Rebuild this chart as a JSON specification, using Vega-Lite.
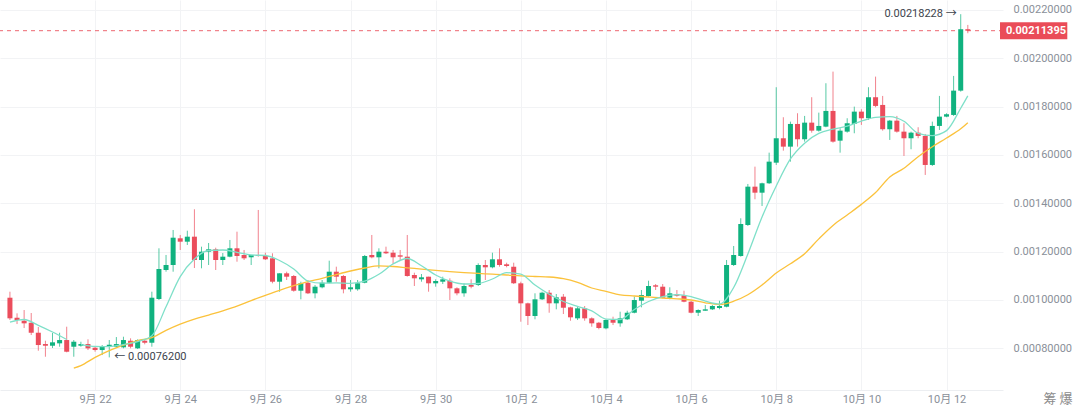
{
"$schema": "https://vega.github.io/schema/vega-lite/v6.json",
"width": 1003, "height": 390,
"autosize": {"type": "none"},
"padding": {"left": 0, "top": 0, "right": 77, "bottom": 18},
"background": "#ffffff",
"config": {
  "view": {"stroke": null},
  "font": "Roboto, 'Noto Sans CJK SC', sans-serif",
  "axis": {"labelFont": "Roboto, 'Noto Sans CJK SC', sans-serif", "labelFontSize": 11, "labelColor": "#8a9099", "ticks": false, "tickSize": 0, "gridColor": "#f2f3f5", "gridWidth": 1, "domain": false}
},
"datasets": {
"k": [
{"t":"2024-09-20 00:00","o":0.0010089,"h":0.0010338,"l":0.0009166,"c":0.0009236},
{"t":"2024-09-20 04:00","o":0.0009261,"h":0.0009443,"l":0.0009000,"c":0.0009166},
{"t":"2024-09-20 08:00","o":0.0009137,"h":0.0009580,"l":0.0008835,"c":0.0009029},
{"t":"2024-09-20 12:00","o":0.0009054,"h":0.0009456,"l":0.0008545,"c":0.0008640},
{"t":"2024-09-20 16:00","o":0.0008640,"h":0.0008876,"l":0.0007895,"c":0.0008131},
{"t":"2024-09-20 20:00","o":0.0008172,"h":0.0008309,"l":0.0007647,"c":0.0008102},
{"t":"2024-09-21 00:00","o":0.0008102,"h":0.0008628,"l":0.0008007,"c":0.0008243},
{"t":"2024-09-21 04:00","o":0.0008201,"h":0.0008640,"l":0.0008061,"c":0.0008338},
{"t":"2024-09-21 08:00","o":0.0008338,"h":0.0008889,"l":0.0007829,"c":0.0007854},
{"t":"2024-09-21 12:00","o":0.0008061,"h":0.0008338,"l":0.0007647,"c":0.0008268},
{"t":"2024-09-21 16:00","o":0.0008102,"h":0.0008268,"l":0.0008061,"c":0.0008172},
{"t":"2024-09-21 20:00","o":0.0008172,"h":0.0008367,"l":0.0007924,"c":0.0007994},
{"t":"2024-09-22 00:00","o":0.0008019,"h":0.0008061,"l":0.0007854,"c":0.0007924},
{"t":"2024-09-22 04:00","o":0.0007924,"h":0.0008131,"l":0.0007717,"c":0.0008090},
{"t":"2024-09-22 08:00","o":0.0008090,"h":0.0008338,"l":0.0007620,"c":0.0008143},
{"t":"2024-09-22 12:00","o":0.0008061,"h":0.0008462,"l":0.0008007,"c":0.0008172},
{"t":"2024-09-22 16:00","o":0.0008036,"h":0.0008475,"l":0.0007994,"c":0.0008338},
{"t":"2024-09-22 20:00","o":0.0008309,"h":0.0008408,"l":0.0007994,"c":0.0008061},
{"t":"2024-09-23 00:00","o":0.0007994,"h":0.0008367,"l":0.0007965,"c":0.0008338},
{"t":"2024-09-23 04:00","o":0.0008309,"h":0.0008367,"l":0.0008160,"c":0.0008226},
{"t":"2024-09-23 08:00","o":0.0008226,"h":0.0010338,"l":0.0008061,"c":0.0010089},
{"t":"2024-09-23 12:00","o":0.0010035,"h":0.0012134,"l":0.0009994,"c":0.0011277},
{"t":"2024-09-23 16:00","o":0.0011236,"h":0.0011857,"l":0.0011166,"c":0.0011443},
{"t":"2024-09-23 20:00","o":0.0011443,"h":0.0012892,"l":0.0011166,"c":0.0012573},
{"t":"2024-09-24 00:00","o":0.0012548,"h":0.0012685,"l":0.0012064,"c":0.0012408},
{"t":"2024-09-24 04:00","o":0.0012408,"h":0.0012863,"l":0.0012271,"c":0.0012615},
{"t":"2024-09-24 08:00","o":0.0012615,"h":0.0013749,"l":0.0011319,"c":0.0011650},
{"t":"2024-09-24 12:00","o":0.0011650,"h":0.0012201,"l":0.0011306,"c":0.0011994},
{"t":"2024-09-24 16:00","o":0.0011994,"h":0.0012354,"l":0.0011443,"c":0.0012093},
{"t":"2024-09-24 20:00","o":0.0012093,"h":0.0012159,"l":0.0011236,"c":0.0011650},
{"t":"2024-09-25 00:00","o":0.0011650,"h":0.0011940,"l":0.0011443,"c":0.0011787},
{"t":"2024-09-25 04:00","o":0.0011787,"h":0.0012478,"l":0.0011762,"c":0.0012134},
{"t":"2024-09-25 08:00","o":0.0012134,"h":0.0012822,"l":0.0011580,"c":0.0011816},
{"t":"2024-09-25 12:00","o":0.0011857,"h":0.0012064,"l":0.0011650,"c":0.0011720},
{"t":"2024-09-25 16:00","o":0.0011762,"h":0.0011857,"l":0.0011443,"c":0.0011857},
{"t":"2024-09-25 20:00","o":0.0011857,"h":0.0013720,"l":0.0011787,"c":0.0011816},
{"t":"2024-09-26 00:00","o":0.0011816,"h":0.0011952,"l":0.0011650,"c":0.0011679},
{"t":"2024-09-26 04:00","o":0.0011720,"h":0.0011927,"l":0.0010685,"c":0.0010752},
{"t":"2024-09-26 08:00","o":0.0010752,"h":0.0011099,"l":0.0010338,"c":0.0011099},
{"t":"2024-09-26 12:00","o":0.0011099,"h":0.0011166,"l":0.0010822,"c":0.0010959},
{"t":"2024-09-26 16:00","o":0.0010988,"h":0.0011029,"l":0.0010338,"c":0.0010379},
{"t":"2024-09-26 20:00","o":0.0010379,"h":0.0010752,"l":0.0010023,"c":0.0010685},
{"t":"2024-09-27 00:00","o":0.0010710,"h":0.0010822,"l":0.0010242,"c":0.0010271},
{"t":"2024-09-27 04:00","o":0.0010271,"h":0.0010615,"l":0.0010064,"c":0.0010545},
{"t":"2024-09-27 08:00","o":0.0010520,"h":0.0010822,"l":0.0010478,"c":0.0010710},
{"t":"2024-09-27 12:00","o":0.0010710,"h":0.0011621,"l":0.0010685,"c":0.0011166},
{"t":"2024-09-27 16:00","o":0.0011166,"h":0.0011373,"l":0.0010752,"c":0.0010959},
{"t":"2024-09-27 20:00","o":0.0010988,"h":0.0011029,"l":0.0010271,"c":0.0010437},
{"t":"2024-09-28 00:00","o":0.0010437,"h":0.0010822,"l":0.0010338,"c":0.0010520},
{"t":"2024-09-28 04:00","o":0.0010437,"h":0.0010822,"l":0.0010379,"c":0.0010685},
{"t":"2024-09-28 08:00","o":0.0010710,"h":0.0011857,"l":0.0010685,"c":0.0011816},
{"t":"2024-09-28 12:00","o":0.0011857,"h":0.0012685,"l":0.0011720,"c":0.0011762},
{"t":"2024-09-28 16:00","o":0.0011762,"h":0.0012134,"l":0.0011306,"c":0.0011994},
{"t":"2024-09-28 20:00","o":0.0011994,"h":0.0012201,"l":0.0011898,"c":0.0011927},
{"t":"2024-09-29 00:00","o":0.0011952,"h":0.0012064,"l":0.0011484,"c":0.0011762},
{"t":"2024-09-29 04:00","o":0.0011844,"h":0.0012064,"l":0.0011650,"c":0.0011787},
{"t":"2024-09-29 08:00","o":0.0011787,"h":0.0012685,"l":0.0010959,"c":0.0010988},
{"t":"2024-09-29 12:00","o":0.0011029,"h":0.0011124,"l":0.0010574,"c":0.0010892},
{"t":"2024-09-29 16:00","o":0.0010851,"h":0.0011070,"l":0.0010752,"c":0.0010934},
{"t":"2024-09-29 20:00","o":0.0010959,"h":0.0010959,"l":0.0010338,"c":0.0010685},
{"t":"2024-09-30 00:00","o":0.0010685,"h":0.0010851,"l":0.0010545,"c":0.0010781},
{"t":"2024-09-30 04:00","o":0.0010752,"h":0.0010959,"l":0.0010656,"c":0.0010851},
{"t":"2024-09-30 08:00","o":0.0010793,"h":0.0010892,"l":0.0009994,"c":0.0010478},
{"t":"2024-09-30 12:00","o":0.0010478,"h":0.0010520,"l":0.0010189,"c":0.0010271},
{"t":"2024-09-30 16:00","o":0.0010271,"h":0.0010685,"l":0.0010131,"c":0.0010574},
{"t":"2024-09-30 20:00","o":0.0010615,"h":0.0010851,"l":0.0010478,"c":0.0010545},
{"t":"2024-10-01 00:00","o":0.0010615,"h":0.0011513,"l":0.0010574,"c":0.0011443},
{"t":"2024-10-01 04:00","o":0.0011443,"h":0.0011650,"l":0.0010822,"c":0.0011348},
{"t":"2024-10-01 08:00","o":0.0011348,"h":0.0011952,"l":0.0011306,"c":0.0011679},
{"t":"2024-10-01 12:00","o":0.0011679,"h":0.0012134,"l":0.0011373,"c":0.0011443},
{"t":"2024-10-01 16:00","o":0.0011472,"h":0.0011538,"l":0.0011348,"c":0.0011402},
{"t":"2024-10-01 20:00","o":0.0011373,"h":0.0011538,"l":0.0010656,"c":0.0010685},
{"t":"2024-10-02 00:00","o":0.0010685,"h":0.0010752,"l":0.0009096,"c":0.0009857},
{"t":"2024-10-02 04:00","o":0.0009857,"h":0.0009885,"l":0.0008959,"c":0.0009332},
{"t":"2024-10-02 08:00","o":0.0009332,"h":0.0010271,"l":0.0009195,"c":0.0010023},
{"t":"2024-10-02 12:00","o":0.0010023,"h":0.0010338,"l":0.0009994,"c":0.0010296},
{"t":"2024-10-02 16:00","o":0.0010296,"h":0.0010408,"l":0.0009468,"c":0.0009857},
{"t":"2024-10-02 20:00","o":0.0009857,"h":0.0010242,"l":0.0009609,"c":0.0010106},
{"t":"2024-10-03 00:00","o":0.0010131,"h":0.0010242,"l":0.0009414,"c":0.0009675},
{"t":"2024-10-03 04:00","o":0.0009691,"h":0.0009717,"l":0.0009137,"c":0.0009278},
{"t":"2024-10-03 08:00","o":0.0009236,"h":0.0009746,"l":0.0009166,"c":0.0009650},
{"t":"2024-10-03 12:00","o":0.0009650,"h":0.0009746,"l":0.0009137,"c":0.0009236},
{"t":"2024-10-03 16:00","o":0.0009236,"h":0.0009278,"l":0.0008889,"c":0.0009029},
{"t":"2024-10-03 20:00","o":0.0009054,"h":0.0009087,"l":0.0008781,"c":0.0008835},
{"t":"2024-10-04 00:00","o":0.0008822,"h":0.0009195,"l":0.0008781,"c":0.0009166},
{"t":"2024-10-04 04:00","o":0.0009166,"h":0.0009303,"l":0.0008959,"c":0.0009054},
{"t":"2024-10-04 08:00","o":0.0009029,"h":0.0009510,"l":0.0008889,"c":0.0009236},
{"t":"2024-10-04 12:00","o":0.0009195,"h":0.0009551,"l":0.0009166,"c":0.0009468},
{"t":"2024-10-04 16:00","o":0.0009468,"h":0.0010131,"l":0.0009443,"c":0.0009994},
{"t":"2024-10-04 20:00","o":0.0009965,"h":0.0010408,"l":0.0009691,"c":0.0010201},
{"t":"2024-10-05 00:00","o":0.0010160,"h":0.0010793,"l":0.0010131,"c":0.0010574},
{"t":"2024-10-05 04:00","o":0.0010603,"h":0.0010656,"l":0.0010408,"c":0.0010545},
{"t":"2024-10-05 08:00","o":0.0010545,"h":0.0010656,"l":0.0010064,"c":0.0010089},
{"t":"2024-10-05 12:00","o":0.0010089,"h":0.0010520,"l":0.0010023,"c":0.0010271},
{"t":"2024-10-05 16:00","o":0.0010230,"h":0.0010408,"l":0.0010131,"c":0.0010172},
{"t":"2024-10-05 20:00","o":0.0010189,"h":0.0010379,"l":0.0009899,"c":0.0009924},
{"t":"2024-10-06 00:00","o":0.0009924,"h":0.0009965,"l":0.0009443,"c":0.0009468},
{"t":"2024-10-06 04:00","o":0.0009468,"h":0.0009609,"l":0.0009332,"c":0.0009580},
{"t":"2024-10-06 08:00","o":0.0009551,"h":0.0009787,"l":0.0009551,"c":0.0009609},
{"t":"2024-10-06 12:00","o":0.0009609,"h":0.0009787,"l":0.0009580,"c":0.0009746},
{"t":"2024-10-06 16:00","o":0.0009663,"h":0.0009965,"l":0.0009609,"c":0.0009746},
{"t":"2024-10-06 20:00","o":0.0009717,"h":0.0011650,"l":0.0009691,"c":0.0011443},
{"t":"2024-10-07 00:00","o":0.0011443,"h":0.0012230,"l":0.0011402,"c":0.0011857},
{"t":"2024-10-07 04:00","o":0.0011816,"h":0.0013376,"l":0.0011787,"c":0.0013140},
{"t":"2024-10-07 08:00","o":0.0013099,"h":0.0014796,"l":0.0013058,"c":0.0014685},
{"t":"2024-10-07 12:00","o":0.0014685,"h":0.0015513,"l":0.0014163,"c":0.0014436},
{"t":"2024-10-07 16:00","o":0.0014436,"h":0.0014850,"l":0.0013886,"c":0.0014825},
{"t":"2024-10-07 20:00","o":0.0014825,"h":0.0016092,"l":0.0014796,"c":0.0015720},
{"t":"2024-10-08 00:00","o":0.0015678,"h":0.0018800,"l":0.0015583,"c":0.0016688},
{"t":"2024-10-08 04:00","o":0.0016688,"h":0.0017558,"l":0.0016175,"c":0.0016341},
{"t":"2024-10-08 08:00","o":0.0016341,"h":0.0017376,"l":0.0015720,"c":0.0017280},
{"t":"2024-10-08 12:00","o":0.0017280,"h":0.0017723,"l":0.0016341,"c":0.0016647},
{"t":"2024-10-08 16:00","o":0.0016647,"h":0.0017612,"l":0.0016548,"c":0.0017334},
{"t":"2024-10-08 20:00","o":0.0017334,"h":0.0018386,"l":0.0016920,"c":0.0017003},
{"t":"2024-10-09 00:00","o":0.0017003,"h":0.0017748,"l":0.0016962,"c":0.0017198},
{"t":"2024-10-09 04:00","o":0.0017169,"h":0.0018965,"l":0.0017144,"c":0.0017819},
{"t":"2024-10-09 08:00","o":0.0017819,"h":0.0019446,"l":0.0016506,"c":0.0016548},
{"t":"2024-10-09 12:00","o":0.0016589,"h":0.0017102,"l":0.0016092,"c":0.0017003},
{"t":"2024-10-09 16:00","o":0.0016962,"h":0.0017516,"l":0.0016920,"c":0.0017309},
{"t":"2024-10-09 20:00","o":0.0017280,"h":0.0017997,"l":0.0016895,"c":0.0017790},
{"t":"2024-10-10 00:00","o":0.0017790,"h":0.0017889,"l":0.0017239,"c":0.0017516},
{"t":"2024-10-10 04:00","o":0.0017516,"h":0.0018800,"l":0.0017446,"c":0.0018386},
{"t":"2024-10-10 08:00","o":0.0018386,"h":0.0019239,"l":0.0017972,"c":0.0018026},
{"t":"2024-10-10 12:00","o":0.0018067,"h":0.0018440,"l":0.0017003,"c":0.0017061},
{"t":"2024-10-10 16:00","o":0.0017061,"h":0.0017446,"l":0.0016618,"c":0.0017417},
{"t":"2024-10-10 20:00","o":0.0017417,"h":0.0017612,"l":0.0016920,"c":0.0016962},
{"t":"2024-10-11 00:00","o":0.0016962,"h":0.0017309,"l":0.0015956,"c":0.0016688},
{"t":"2024-10-11 04:00","o":0.0016688,"h":0.0016962,"l":0.0016233,"c":0.0016920},
{"t":"2024-10-11 08:00","o":0.0016920,"h":0.0017144,"l":0.0016688,"c":0.0016784},
{"t":"2024-10-11 12:00","o":0.0016784,"h":0.0016866,"l":0.0015169,"c":0.0015583},
{"t":"2024-10-11 16:00","o":0.0015583,"h":0.0017376,"l":0.0015542,"c":0.0017198},
{"t":"2024-10-11 20:00","o":0.0017198,"h":0.0018440,"l":0.0017032,"c":0.0017583},
{"t":"2024-10-12 00:00","o":0.0017583,"h":0.0017723,"l":0.0017558,"c":0.0017682},
{"t":"2024-10-12 04:00","o":0.0017653,"h":0.0019268,"l":0.0017612,"c":0.0018659},
{"t":"2024-10-12 08:00","o":0.0018659,"h":0.00218228,"l":0.0018618,"c":0.0021201},
{"t":"2024-10-12 12:00","o":0.0021201,"h":0.0021379,"l":0.0021035,"c":0.00211395}
],
"ma": [
{"t":"2024-09-20 00:00","f":0.0009083},
{"t":"2024-09-20 08:00","f":0.0009187},
{"t":"2024-09-20 16:00","f":0.0008947},
{"t":"2024-09-21 00:00","f":0.0008669},
{"t":"2024-09-21 08:00","f":0.0008359},
{"t":"2024-09-21 12:00","s":0.0007179},
{"t":"2024-09-21 16:00","f":0.0008152,"s":0.0007282},
{"t":"2024-09-22 00:00","f":0.0008077,"s":0.0007622},
{"t":"2024-09-22 08:00","f":0.0008069,"s":0.0007903},
{"t":"2024-09-22 16:00","f":0.0008152,"s":0.0008127},
{"t":"2024-09-23 00:00","f":0.0008276,"s":0.0008317},
{"t":"2024-09-23 08:00","f":0.0008516,"s":0.0008437},
{"t":"2024-09-23 16:00","f":0.0009717,"s":0.0008735},
{"t":"2024-09-24 00:00","f":0.0010963,"s":0.0008992},
{"t":"2024-09-24 08:00","f":0.0011691,"s":0.0009199},
{"t":"2024-09-24 16:00","f":0.0012043,"s":0.0009373},
{"t":"2024-09-25 00:00","f":0.0012064,"s":0.0009547},
{"t":"2024-09-25 08:00","f":0.0011969,"s":0.0009741},
{"t":"2024-09-25 16:00","f":0.0011857,"s":0.0009973},
{"t":"2024-09-26 00:00","f":0.0011836,"s":0.0010184},
{"t":"2024-09-26 08:00","f":0.0011629,"s":0.0010396},
{"t":"2024-09-26 16:00","f":0.0011277,"s":0.0010586},
{"t":"2024-09-27 00:00","f":0.0010781,"s":0.0010756},
{"t":"2024-09-27 08:00","f":0.0010690,"s":0.0010888},
{"t":"2024-09-27 16:00","f":0.0010702,"s":0.0011046},
{"t":"2024-09-28 00:00","f":0.0010685,"s":0.0011195},
{"t":"2024-09-28 08:00","f":0.0010772,"s":0.0011319},
{"t":"2024-09-28 16:00","f":0.0011058,"s":0.0011406},
{"t":"2024-09-29 00:00","f":0.0011484,"s":0.0011381},
{"t":"2024-09-29 08:00","f":0.0011712,"s":0.0011327},
{"t":"2024-09-29 16:00","f":0.0011414,"s":0.0011273},
{"t":"2024-09-30 00:00","f":0.0011029,"s":0.0011219},
{"t":"2024-09-30 08:00","f":0.0010772,"s":0.0011170},
{"t":"2024-09-30 16:00","f":0.0010656,"s":0.0011128},
{"t":"2024-10-01 00:00","f":0.0010677,"s":0.0011095},
{"t":"2024-10-01 08:00","f":0.0010863,"s":0.0011062},
{"t":"2024-10-01 16:00","f":0.0011124,"s":0.0011029},
{"t":"2024-10-02 00:00","f":0.0011070,"s":0.0010992},
{"t":"2024-10-02 08:00","f":0.0010615,"s":0.0010967},
{"t":"2024-10-02 16:00","f":0.0010234,"s":0.0010946},
{"t":"2024-10-03 00:00","f":0.0009932,"s":0.0010880},
{"t":"2024-10-03 08:00","f":0.0009733,"s":0.0010727},
{"t":"2024-10-03 16:00","f":0.0009547,"s":0.0010491},
{"t":"2024-10-04 00:00","f":0.0009207,"s":0.0010350},
{"t":"2024-10-04 08:00","f":0.0009187,"s":0.0010209},
{"t":"2024-10-04 16:00","f":0.0009601,"s":0.0010160},
{"t":"2024-10-05 00:00","f":0.0009932,"s":0.0010118},
{"t":"2024-10-05 08:00","f":0.0010135,"s":0.0010077},
{"t":"2024-10-05 16:00","f":0.0010218,"s":0.0010044},
{"t":"2024-10-06 00:00","f":0.0010139,"s":0.0009994},
{"t":"2024-10-06 08:00","f":0.0009948,"s":0.0009878},
{"t":"2024-10-06 16:00","f":0.0009828,"s":0.0009808},
{"t":"2024-10-07 00:00","f":0.0010511,"s":0.0009944},
{"t":"2024-10-07 08:00","f":0.0011898,"s":0.0010213},
{"t":"2024-10-07 16:00","f":0.0013430,"s":0.0010615},
{"t":"2024-10-08 00:00","f":0.0014714,"s":0.0011112},
{"t":"2024-10-08 08:00","f":0.0015831,"s":0.0011493},
{"t":"2024-10-08 16:00","f":0.0016486,"s":0.0011911},
{"t":"2024-10-09 00:00","f":0.0016887,"s":0.0012524},
{"t":"2024-10-09 08:00","f":0.0017065,"s":0.0013082},
{"t":"2024-10-09 16:00","f":0.0017189,"s":0.0013513},
{"t":"2024-10-10 00:00","f":0.0017396,"s":0.0013952},
{"t":"2024-10-10 08:00","f":0.0017554,"s":0.0014440},
{"t":"2024-10-10 16:00","f":0.0017583,"s":0.0015086},
{"t":"2024-10-11 00:00","f":0.0017392,"s":0.0015446},
{"t":"2024-10-11 08:00","f":0.0016895,"s":0.0015927},
{"t":"2024-10-11 16:00","f":0.0016800,"s":0.0016336},
{"t":"2024-10-12 00:00","f":0.0017003,"s":0.0016697},
{"t":"2024-10-12 08:00","f":0.0017930,"s":0.0017082},
{"t":"2024-10-12 12:00","f":0.0018440,"s":0.0017334}
]
},
"layer": [
{
  "data": {"values": [{"p": 0.00211395}]},
  "mark": {"type": "rule", "color": "#ea4c58", "strokeDash": [4, 4], "strokeWidth": 1, "opacity": 0.85},
  "encoding": {
    "y": {"field": "p", "type": "quantitative", "title": null, "scale": {"domain": [0.000627, 0.002241], "nice": false, "zero": false},
      "axis": {"orient": "right", "values": [0.0008, 0.001, 0.0012, 0.0014, 0.0016, 0.0018, 0.002, 0.0022], "format": ".8f", "labelPadding": 10, "grid": true, "labelAlign": "left", "labelBaseline": "middle"}}
  }
},
{
  "data": {"name": "k"},
  "mark": {"type": "rule", "strokeWidth": 1, "opacity": 0.7},
  "encoding": {
    "x": {"field": "t", "type": "temporal", "title": "筹 爆",
      "scale": {"domain": [{"year": 2024, "month": 9, "date": 19, "hours": 21, "minutes": 13}, {"year": 2024, "month": 10, "date": 13, "hours": 5, "minutes": 1}]},
      "axis": {"values": [
        {"year": 2024, "month": 9, "date": 22}, {"year": 2024, "month": 9, "date": 24}, {"year": 2024, "month": 9, "date": 26},
        {"year": 2024, "month": 9, "date": 28}, {"year": 2024, "month": 9, "date": 30}, {"year": 2024, "month": 10, "date": 2},
        {"year": 2024, "month": 10, "date": 4}, {"year": 2024, "month": 10, "date": 6}, {"year": 2024, "month": 10, "date": 8},
        {"year": 2024, "month": 10, "date": 10}, {"year": 2024, "month": 10, "date": 12}],
        "format": "%-m月 %-d", "grid": true, "domain": true, "domainColor": "#eceef1", "labelPadding": 3, "labelOverlap": false, "labelFlush": false,
        "titleX": 1043, "titleY": 2, "titleAlign": "left", "titleBaseline": "top", "titleFontSize": 13, "titleFontWeight": "normal", "titleColor": "#8c8c8c", "titleFont": "Noto Sans CJK SC"}},
    "y": {"field": "l", "type": "quantitative", "title": null, "scale": {"domain": [0.000627, 0.002241], "nice": false, "zero": false}},
    "y2": {"field": "h"},
    "color": {"condition": {"test": "datum.c >= datum.o", "value": "#10b27f"}, "value": "#eb4d5c"}
  }
},
{
  "data": {"name": "k"},
  "mark": {"type": "bar", "width": 5},
  "encoding": {
    "x": {"field": "t", "type": "temporal", "title": "筹 爆"},
    "y": {"field": "o", "type": "quantitative", "title": null, "scale": {"domain": [0.000627, 0.002241], "nice": false, "zero": false}},
    "y2": {"field": "c"},
    "color": {"condition": {"test": "datum.c >= datum.o", "value": "#10b27f"}, "value": "#eb4d5c"}
  }
},
{
  "data": {"name": "ma"},
  "mark": {"type": "line", "color": "#fbc23c", "strokeWidth": 1.3, "interpolate": "monotone"},
  "encoding": {
    "x": {"field": "t", "type": "temporal", "title": "筹 爆"},
    "y": {"field": "s", "type": "quantitative", "title": null, "scale": {"domain": [0.000627, 0.002241], "nice": false, "zero": false}}
  }
},
{
  "data": {"name": "ma"},
  "mark": {"type": "line", "color": "#7fe0c9", "strokeWidth": 1.3, "interpolate": "monotone"},
  "encoding": {
    "x": {"field": "t", "type": "temporal", "title": "筹 爆"},
    "y": {"field": "f", "type": "quantitative", "title": null, "scale": {"domain": [0.000627, 0.002241], "nice": false, "zero": false}}
  }
},
{
  "data": {"values": [{"t": "2024-10-12 08:00", "p": 0.00218228, "label": "0.00218228 →"}]},
  "mark": {"type": "text", "align": "right", "baseline": "middle", "dx": -4, "fontSize": 11, "color": "#3d434c"},
  "encoding": {
    "x": {"field": "t", "type": "temporal", "title": "筹 爆"},
    "y": {"field": "p", "type": "quantitative", "title": null, "scale": {"domain": [0.000627, 0.002241], "nice": false, "zero": false}},
    "text": {"field": "label"}
  }
},
{
  "data": {"values": [{"t": "2024-09-22 08:00", "p": 0.000762, "label": "← 0.00076200"}]},
  "mark": {"type": "text", "align": "left", "baseline": "middle", "dx": 5, "fontSize": 11, "color": "#3d434c"},
  "encoding": {
    "x": {"field": "t", "type": "temporal", "title": "筹 爆"},
    "y": {"field": "p", "type": "quantitative", "title": null, "scale": {"domain": [0.000627, 0.002241], "nice": false, "zero": false}},
    "text": {"field": "label"}
  }
},
{
  "data": {"values": [{"p": 0.00211395, "label": "0.00211395"}]},
  "mark": {"type": "rule", "strokeWidth": 17, "strokeCap": "butt", "color": "#ea4c58"},
  "encoding": {
    "x": {"datum": {"year": 2024, "month": 10, "date": 13, "hours": 6, "minutes": 9}, "type": "temporal", "title": "筹 爆"},
    "x2": {"datum": {"year": 2024, "month": 10, "date": 14, "hours": 20, "minutes": 5}},
    "y": {"field": "p", "type": "quantitative", "title": null, "scale": {"domain": [0.000627, 0.002241], "nice": false, "zero": false}}
  }
},
{
  "data": {"values": [{"p": 0.00211395, "label": "0.00211395"}]},
  "mark": {"type": "text", "align": "left", "baseline": "middle", "dx": 6, "fontSize": 11, "fontWeight": "bold", "font": "Roboto", "color": "#ffffff"},
  "encoding": {
    "x": {"datum": {"year": 2024, "month": 10, "date": 13, "hours": 6, "minutes": 9}, "type": "temporal", "title": "筹 爆"},
    "y": {"field": "p", "type": "quantitative", "title": null, "scale": {"domain": [0.000627, 0.002241], "nice": false, "zero": false}},
    "text": {"field": "label"}
  }
}
]
}
